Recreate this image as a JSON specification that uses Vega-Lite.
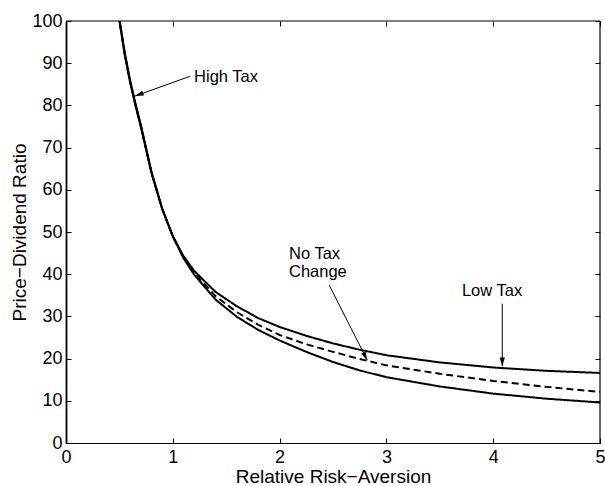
{
  "$schema": "https://vega.github.io/schema/vega-lite/v6.json",
  "width": 534,
  "height": 422,
  "autosize": {"type": "none"},
  "padding": {"left": 66, "top": 21, "right": 5, "bottom": 43},
  "config": {
    "view": {"stroke": null},
    "font": "Liberation Sans",
    "axis": {
      "grid": false,
      "tickSize": -5,
      "tickColor": "black",
      "tickWidth": 1,
      "domainColor": "black",
      "domainWidth": 1.2,
      "labelColor": "black",
      "titleColor": "black",
      "labelFontSize": 18,
      "titleFontSize": 19,
      "titleFontWeight": "normal",
      "labelFlush": false
    }
  },
  "datasets": {
    "curves": [
      {"series": "Low Tax", "x": 0.48, "y": 104},
      {"series": "Low Tax", "x": 0.5, "y": 100},
      {"series": "Low Tax", "x": 0.55, "y": 92},
      {"series": "Low Tax", "x": 0.6, "y": 85.5},
      {"series": "Low Tax", "x": 0.65, "y": 80},
      {"series": "Low Tax", "x": 0.7, "y": 75},
      {"series": "Low Tax", "x": 0.8, "y": 64},
      {"series": "Low Tax", "x": 0.9, "y": 55.5},
      {"series": "Low Tax", "x": 1.0, "y": 49},
      {"series": "Low Tax", "x": 1.1, "y": 44.3},
      {"series": "Low Tax", "x": 1.2, "y": 40.8},
      {"series": "Low Tax", "x": 1.4, "y": 35.8},
      {"series": "Low Tax", "x": 1.6, "y": 32.4},
      {"series": "Low Tax", "x": 1.8, "y": 29.6},
      {"series": "Low Tax", "x": 2.0, "y": 27.5},
      {"series": "Low Tax", "x": 2.25, "y": 25.4},
      {"series": "Low Tax", "x": 2.5, "y": 23.6},
      {"series": "Low Tax", "x": 2.75, "y": 22.1},
      {"series": "Low Tax", "x": 3.0, "y": 20.8},
      {"series": "Low Tax", "x": 3.5, "y": 19.1},
      {"series": "Low Tax", "x": 4.0, "y": 17.9},
      {"series": "Low Tax", "x": 4.5, "y": 17.1},
      {"series": "Low Tax", "x": 5.0, "y": 16.6},
      {"series": "No Tax Change", "x": 0.48, "y": 104.2},
      {"series": "No Tax Change", "x": 0.5, "y": 100.2},
      {"series": "No Tax Change", "x": 0.55, "y": 92.2},
      {"series": "No Tax Change", "x": 0.6, "y": 85.7},
      {"series": "No Tax Change", "x": 0.65, "y": 80.2},
      {"series": "No Tax Change", "x": 0.7, "y": 75.2},
      {"series": "No Tax Change", "x": 0.8, "y": 64.1},
      {"series": "No Tax Change", "x": 0.9, "y": 55.5},
      {"series": "No Tax Change", "x": 1.0, "y": 49},
      {"series": "No Tax Change", "x": 1.1, "y": 44},
      {"series": "No Tax Change", "x": 1.2, "y": 40.3},
      {"series": "No Tax Change", "x": 1.4, "y": 34.8},
      {"series": "No Tax Change", "x": 1.6, "y": 31},
      {"series": "No Tax Change", "x": 1.8, "y": 28},
      {"series": "No Tax Change", "x": 2.0, "y": 25.6},
      {"series": "No Tax Change", "x": 2.25, "y": 23.4},
      {"series": "No Tax Change", "x": 2.5, "y": 21.6},
      {"series": "No Tax Change", "x": 2.75, "y": 19.9},
      {"series": "No Tax Change", "x": 3.0, "y": 18.4},
      {"series": "No Tax Change", "x": 3.5, "y": 16.4},
      {"series": "No Tax Change", "x": 4.0, "y": 14.7},
      {"series": "No Tax Change", "x": 4.5, "y": 13.3},
      {"series": "No Tax Change", "x": 5.0, "y": 12.1},
      {"series": "High Tax", "x": 0.48, "y": 104.5},
      {"series": "High Tax", "x": 0.5, "y": 100.5},
      {"series": "High Tax", "x": 0.55, "y": 92.5},
      {"series": "High Tax", "x": 0.6, "y": 86},
      {"series": "High Tax", "x": 0.65, "y": 80.5},
      {"series": "High Tax", "x": 0.7, "y": 75.5},
      {"series": "High Tax", "x": 0.8, "y": 64.3},
      {"series": "High Tax", "x": 0.9, "y": 55.6},
      {"series": "High Tax", "x": 1.0, "y": 49},
      {"series": "High Tax", "x": 1.1, "y": 43.8},
      {"series": "High Tax", "x": 1.2, "y": 39.9},
      {"series": "High Tax", "x": 1.4, "y": 34},
      {"series": "High Tax", "x": 1.6, "y": 29.9},
      {"series": "High Tax", "x": 1.8, "y": 26.8},
      {"series": "High Tax", "x": 2.0, "y": 24.3},
      {"series": "High Tax", "x": 2.25, "y": 21.6},
      {"series": "High Tax", "x": 2.5, "y": 19.2},
      {"series": "High Tax", "x": 2.75, "y": 17.2},
      {"series": "High Tax", "x": 3.0, "y": 15.6},
      {"series": "High Tax", "x": 3.5, "y": 13.4},
      {"series": "High Tax", "x": 4.0, "y": 11.7},
      {"series": "High Tax", "x": 4.5, "y": 10.5},
      {"series": "High Tax", "x": 5.0, "y": 9.6}
    ],
    "frame": [
      {"x": 0, "y": 100, "x2": 5, "y2": 100},
      {"x": 5, "y": 0, "x2": 5, "y2": 100}
    ],
    "arrows": [
      {"label": "High Tax", "x": 1.161, "y": 86.9, "x2": 0.646, "y2": 82.2},
      {"label": "No Tax Change", "x": 2.465, "y": 37.4, "x2": 2.821, "y2": 19.6},
      {"label": "Low Tax", "x": 4.085, "y": 33.0, "x2": 4.085, "y2": 18.2}
    ],
    "labels": [
      {"text": "High Tax", "x": 1.199, "y": 86.7},
      {"text": "No Tax", "x": 2.088, "y": 44.9},
      {"text": "Change", "x": 2.088, "y": 40.5},
      {"text": "Low Tax", "x": 3.707, "y": 36.0}
    ]
  },
  "layer": [
    {
      "data": {"name": "curves"},
      "mark": {"type": "line", "clip": true, "strokeWidth": 2, "color": "black"},
      "encoding": {
        "x": {
          "field": "x", "type": "quantitative",
          "scale": {"domain": [0, 5], "nice": false, "zero": false},
          "axis": {
            "orient": "bottom",
            "values": [0, 1, 2, 3, 4, 5],
            "format": "d",
            "title": "Relative Risk−Aversion",
            "labelPadding": 10,
            "titlePadding": 1
          }
        },
        "y": {
          "field": "y", "type": "quantitative",
          "scale": {"domain": [0, 100], "nice": false, "zero": false},
          "axis": {
            "orient": "left",
            "values": [0, 10, 20, 30, 40, 50, 60, 70, 80, 90, 100],
            "format": "d",
            "title": "Price−Dividend Ratio",
            "labelPadding": 9,
            "titlePadding": 2,
            "domainWidth": 1.8
          }
        },
        "strokeDash": {
          "field": "series", "type": "nominal",
          "scale": {"domain": ["High Tax", "No Tax Change", "Low Tax"], "range": [[1, 0], [7, 4], [1, 0]]},
          "legend": null
        }
      }
    },
    {
      "data": {"name": "arrows"},
      "mark": {"type": "rule", "color": "black", "strokeWidth": 1},
      "encoding": {
        "x": {
          "field": "x", "type": "quantitative",
          "scale": {"domain": [0, 5], "nice": false, "zero": false},
          "axis": {"orient": "top", "values": [0, 1, 2, 3, 4, 5], "labels": false, "title": null, "domain": false}
        },
        "y": {
          "field": "y", "type": "quantitative",
          "scale": {"domain": [0, 100], "nice": false, "zero": false},
          "axis": {"orient": "right", "values": [0, 10, 20, 30, 40, 50, 60, 70, 80, 90, 100], "labels": false, "title": null, "domain": false}
        },
        "x2": {"field": "x2"},
        "y2": {"field": "y2"}
      }
    },
    {
      "data": {"name": "frame"},
      "mark": {"type": "rule", "color": "black", "strokeWidth": 1.2},
      "encoding": {
        "x": {"field": "x", "type": "quantitative", "scale": {"domain": [0, 5], "nice": false, "zero": false}, "axis": null},
        "y": {"field": "y", "type": "quantitative", "scale": {"domain": [0, 100], "nice": false, "zero": false}, "axis": null},
        "x2": {"field": "x2"},
        "y2": {"field": "y2"}
      }
    },
    {
      "data": {"name": "arrows"},
      "transform": [{"filter": "datum.label === 'High Tax'"}],
      "mark": {"type": "point", "shape": "M0,0L-0.3,1L0.3,1Z", "filled": true, "color": "black", "opacity": 1, "size": 300, "angle": 250},
      "encoding": {
        "x": {"field": "x2", "type": "quantitative", "scale": {"domain": [0, 5], "nice": false, "zero": false}, "axis": null},
        "y": {"field": "y2", "type": "quantitative", "scale": {"domain": [0, 100], "nice": false, "zero": false}, "axis": null}
      }
    },
    {
      "data": {"name": "arrows"},
      "transform": [{"filter": "datum.label === 'No Tax Change'"}],
      "mark": {"type": "point", "shape": "M0,0L-0.3,1L0.3,1Z", "filled": true, "color": "black", "opacity": 1, "size": 300, "angle": 153},
      "encoding": {
        "x": {"field": "x2", "type": "quantitative", "scale": {"domain": [0, 5], "nice": false, "zero": false}, "axis": null},
        "y": {"field": "y2", "type": "quantitative", "scale": {"domain": [0, 100], "nice": false, "zero": false}, "axis": null}
      }
    },
    {
      "data": {"name": "arrows"},
      "transform": [{"filter": "datum.label === 'Low Tax'"}],
      "mark": {"type": "point", "shape": "M0,0L-0.3,1L0.3,1Z", "filled": true, "color": "black", "opacity": 1, "size": 300, "angle": 180},
      "encoding": {
        "x": {"field": "x2", "type": "quantitative", "scale": {"domain": [0, 5], "nice": false, "zero": false}, "axis": null},
        "y": {"field": "y2", "type": "quantitative", "scale": {"domain": [0, 100], "nice": false, "zero": false}, "axis": null}
      }
    },
    {
      "data": {"name": "labels"},
      "mark": {"type": "text", "align": "left", "baseline": "middle", "fontSize": 16.5, "color": "black"},
      "encoding": {
        "x": {"field": "x", "type": "quantitative", "scale": {"domain": [0, 5], "nice": false, "zero": false}, "axis": null},
        "y": {"field": "y", "type": "quantitative", "scale": {"domain": [0, 100], "nice": false, "zero": false}, "axis": null},
        "text": {"field": "text"}
      }
    }
  ],
  "resolve": {
    "scale": {"x": "independent", "y": "independent"},
    "axis": {"x": "independent", "y": "independent"}
  }
}
